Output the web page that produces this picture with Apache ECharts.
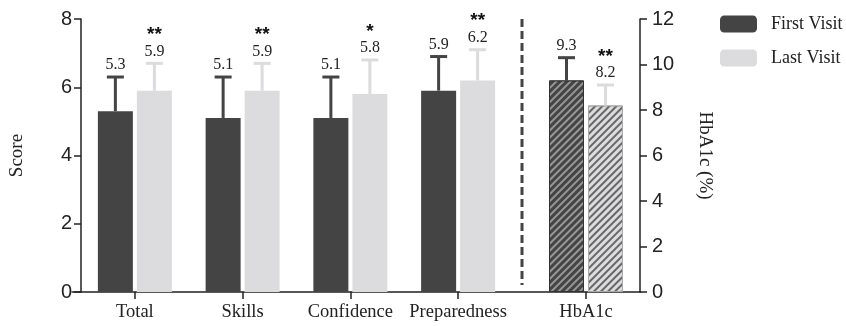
<!DOCTYPE html>
<html><head><meta charset="utf-8">
<script src="https://cdn.jsdelivr.net/npm/echarts@6/dist/echarts.min.js"></script>
<style>html,body{margin:0;padding:0;background:#fff}#c{width:846px;height:326px}</style>
</head><body><div id="c"></div>
<script>
// ---- data ----
const categories = ['Total', 'Skills', 'Confidence', 'Preparedness'];
const firstVisit = [5.3, 5.1, 5.1, 5.9];
const lastVisit = [5.9, 5.9, 5.8, 6.2];
const firstSD = [1.0, 1.2, 1.2, 1.0];
const lastSD = [0.8, 0.8, 1.0, 0.9];
const lastSig = ['**', '**', '*', '**'];
const hbaCategories = ['HbA1c'];
const hbaFirst = [9.3];
const hbaLast = [8.2];
const hbaFirstSD = [1.0];
const hbaLastSD = [0.9];
const hbaSig = ['**'];
const scoreMin = 0, scoreMax = 8, scoreStep = 2;
const hbaMin = 0, hbaMax = 12, hbaStep = 2;

// ---- style / layout ----
const DARK = '#444444', LIGHT = '#dcdcde', AX = '#222';
const SERIF = 'Liberation Serif', SANS = 'Liberation Sans';
const G_TOP = 19, G_BOTTOM = 34;
const G1_LEFT = 72, G1_W = 440;
const G2_LEFT = 532, G2_W = 108;
const BAR_W = 35, BAR_GAP_PX = 4;

const chart = echarts.init(document.getElementById('c'));

function errRenderer(vals, sds, sig, side, color) {
  return function (params, api) {
    const i = params.dataIndex;
    const v = vals[i], sd = sds[i];
    const base = api.coord([api.value(0), v]);
    const top = api.coord([api.value(0), v + sd]);
    const cx = base[0] + side * (BAR_W + BAR_GAP_PX) / 2;
    const children = [
      { type: 'line', shape: { x1: cx, y1: base[1], x2: cx, y2: top[1] }, style: { stroke: color, lineWidth: 3 } },
      { type: 'line', shape: { x1: cx - 8.5, y1: top[1], x2: cx + 8.5, y2: top[1] }, style: { stroke: color, lineWidth: 3 } },
      { type: 'text', style: { x: cx, y: top[1] - 4, text: v.toFixed(1), font: '16px "' + SERIF + '"', fill: '#222', align: 'center', verticalAlign: 'bottom' } }
    ];
    if (sig && sig[i]) {
      children.push({ type: 'text', style: { x: cx, y: top[1] - 19, text: sig[i], font: 'bold 19px "' + SANS + '"', fill: '#111', align: 'center', verticalAlign: 'bottom' } });
    }
    return { type: 'group', children: children };
  };
}

const hatch = (c) => ({ symbol: 'rect', symbolSize: 1, dashArrayX: [1, 0], dashArrayY: [1.5, 2.2], rotation: -Math.PI / 4, color: c });

const xCommon = {
  type: 'category',
  axisLine: { show: false },
  axisTick: { show: true, alignWithLabel: true, length: 7, lineStyle: { color: AX, width: 1.5 } },
  axisLabel: { color: '#222', fontFamily: SERIF, fontSize: 18.5, margin: 11, interval: 0 }
};

const option = {
  animation: false,
  legend: {
    orient: 'vertical', left: 715, top: 10, itemWidth: 37, itemHeight: 17, itemGap: 16,
    icon: 'roundRect',
    data: ['First Visit', 'Last Visit'],
    textStyle: { fontFamily: SERIF, fontSize: 18, color: '#222', padding: [0, 0, 0, 9] }
  },
  grid: [
    { left: G1_LEFT, top: G_TOP, width: G2_LEFT + G2_W - G1_LEFT, bottom: G_BOTTOM },
    { left: G1_LEFT, top: G_TOP, width: G1_W, bottom: G_BOTTOM },
    { left: G2_LEFT, top: G_TOP, width: G2_W, bottom: G_BOTTOM }
  ],
  xAxis: [
    { type: 'category', gridIndex: 0, data: [''], axisLine: { show: true, lineStyle: { color: AX, width: 1.5 } }, axisTick: { show: false }, axisLabel: { show: false } },
    Object.assign({ gridIndex: 1, data: categories }, xCommon),
    Object.assign({ gridIndex: 2, data: hbaCategories }, xCommon)
  ],
  yAxis: [
    { type: 'value', gridIndex: 0, show: false, min: 0, max: 1 },
    {
      type: 'value', gridIndex: 1, min: scoreMin, max: scoreMax, interval: scoreStep,
      name: 'Score', nameLocation: 'middle', nameGap: 54,
      nameTextStyle: { fontFamily: SERIF, fontSize: 19, color: '#222' },
      axisLine: { show: true, lineStyle: { color: AX, width: 1.5 } },
      axisTick: { show: true, length: 7, lineStyle: { color: AX, width: 1.5 } },
      axisLabel: { color: '#222', fontFamily: SANS, fontSize: 20, margin: 9 },
      splitLine: { show: false }
    },
    {
      type: 'value', gridIndex: 2, position: 'right', min: hbaMin, max: hbaMax, interval: hbaStep,
      name: 'HbA1c (%)', nameLocation: 'middle', nameGap: 55, nameRotate: -90,
      nameTextStyle: { fontFamily: SERIF, fontSize: 19, color: '#222' },
      axisLine: { show: true, lineStyle: { color: AX, width: 1.5 } },
      axisTick: { show: true, length: 7, lineStyle: { color: AX, width: 1.5 } },
      axisLabel: { color: '#222', fontFamily: SANS, fontSize: 20, margin: 12 },
      splitLine: { show: false }
    }
  ],
  graphic: [{
    type: 'line', z: 10,
    shape: { x1: (G1_LEFT + G1_W + G2_LEFT) / 2, y1: G_TOP, x2: (G1_LEFT + G1_W + G2_LEFT) / 2, y2: 326 - G_BOTTOM - 7 },
    style: { stroke: DARK, lineWidth: 3, lineDash: [8, 4] }
  }],
  series: [
    { name: 'First Visit', type: 'bar', xAxisIndex: 1, yAxisIndex: 1, data: firstVisit, barWidth: BAR_W, barGap: (BAR_GAP_PX / BAR_W * 100) + '%', itemStyle: { color: DARK } },
    { name: 'Last Visit', type: 'bar', xAxisIndex: 1, yAxisIndex: 1, data: lastVisit, barWidth: BAR_W, itemStyle: { color: LIGHT } },
    { name: 'First Visit', type: 'bar', xAxisIndex: 2, yAxisIndex: 2, data: hbaFirst, barWidth: BAR_W, barGap: (BAR_GAP_PX / BAR_W * 100) + '%', itemStyle: { color: DARK, borderColor: '#333', borderWidth: 1, decal: hatch('rgba(160,160,160,0.9)') } },
    { name: 'Last Visit', type: 'bar', xAxisIndex: 2, yAxisIndex: 2, data: hbaLast, barWidth: BAR_W, itemStyle: { color: LIGHT, borderColor: '#aaa', borderWidth: 1, decal: hatch('rgba(90,90,90,0.9)') } },
    { type: 'custom', xAxisIndex: 1, yAxisIndex: 1, data: firstVisit.map((v, i) => [i, v]), renderItem: errRenderer(firstVisit, firstSD, null, -1, DARK), z: 3 },
    { type: 'custom', xAxisIndex: 1, yAxisIndex: 1, data: lastVisit.map((v, i) => [i, v]), renderItem: errRenderer(lastVisit, lastSD, lastSig, 1, LIGHT), z: 3 },
    { type: 'custom', xAxisIndex: 2, yAxisIndex: 2, data: hbaFirst.map((v, i) => [i, v]), renderItem: errRenderer(hbaFirst, hbaFirstSD, null, -1, DARK), z: 3 },
    { type: 'custom', xAxisIndex: 2, yAxisIndex: 2, data: hbaLast.map((v, i) => [i, v]), renderItem: errRenderer(hbaLast, hbaLastSD, hbaSig, 1, LIGHT), z: 3 }
  ]
};
chart.setOption(option);
</script></body></html>
